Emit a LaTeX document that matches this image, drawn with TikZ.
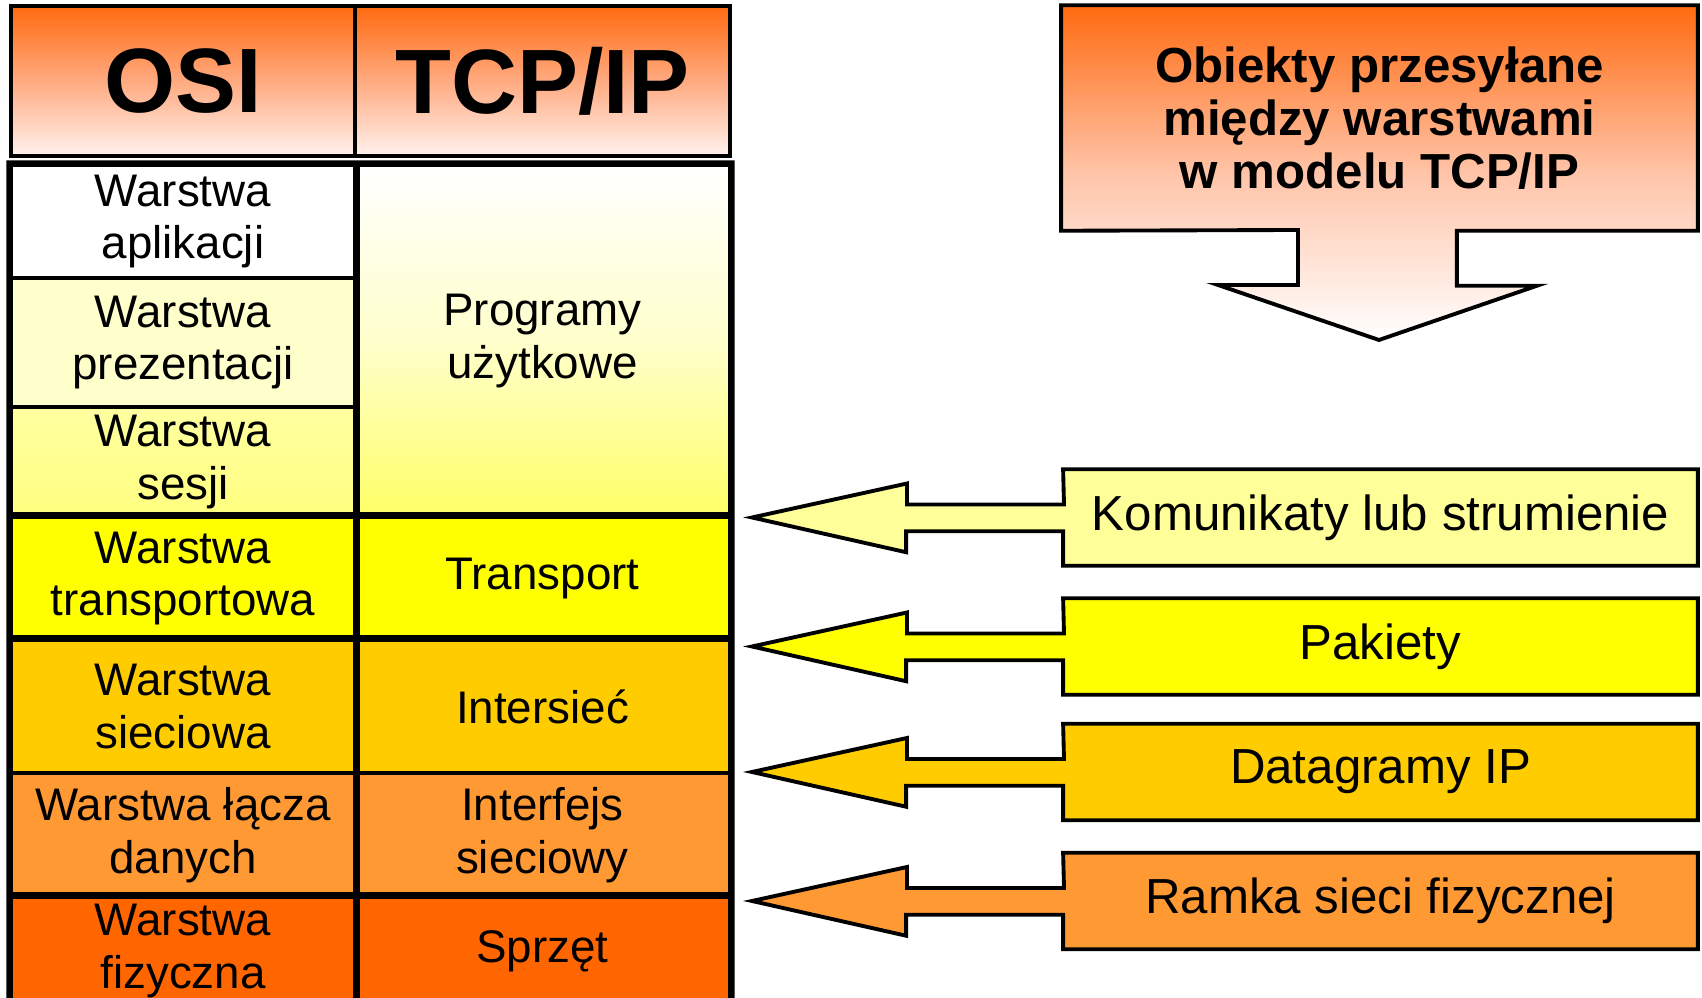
\documentclass[tikz,border=0pt]{standalone}
\usepackage{fontspec}
\setmainfont{Liberation Sans}
\usetikzlibrary{backgrounds}
\definecolor{hdtop}{HTML}{FF6A10}
\definecolor{hdmid}{HTML}{FFAA80}
\definecolor{hdbot}{HTML}{FFF2EE}
\definecolor{objmid}{HTML}{FFC4A8}
\definecolor{pale}{HTML}{FFFFCC}
\definecolor{sesstop}{HTML}{FFFFA0}
\definecolor{sessbot}{HTML}{FFFF80}
\definecolor{progbot}{HTML}{FFFF66}
\definecolor{yel}{HTML}{FFFF00}
\definecolor{gold}{HTML}{FFCC00}
\definecolor{lorange}{HTML}{FF9933}
\definecolor{dorange}{HTML}{FF6600}
\definecolor{komcol}{HTML}{FFFF99}

\begin{document}
\begin{tikzpicture}[x=0.01cm, y=-0.01cm,
  cell/.style={draw, line width=1.1pt, align=center, inner sep=0pt,
    font=\fontsize{13}{15}\selectfont},
  osi/.style={cell, minimum width=3.44cm},
  tcp/.style={cell, minimum width=3.75cm},
  head/.style={cell, minimum height=1.5cm, top color=hdtop,
    bottom color=hdbot, middle color=hdmid,
    font=\fontsize{26}{30}\bfseries\selectfont},
  sep/.style={line width=1.9pt},
  tag/.style={align=center, inner sep=0pt, minimum width=6.33cm,
    minimum height=0.95cm, font=\fontsize{14}{16}\selectfont},
  arr/.style={draw, line width=1.1pt, line join=miter}]
  \useasboundingbox (0,0) rectangle (1702,998);
  \clip (0,0) rectangle (1702,998);

  \node[head, minimum width=3.44cm] (osi) at (183,81) {OSI};
  \node[head, minimum width=3.75cm] (tcpip) at (542.5,81) {TCP/IP};

  \node[osi, minimum height=1.13cm, fill=white] (app) at (183,221.5)
    {Warstwa\\aplikacji};
  \node[osi, minimum height=1.29cm, fill=pale] (pres) at (183,342.5)
    {Warstwa\\prezentacji};
  \node[osi, minimum height=1.10cm, top color=sesstop,
    bottom color=sessbot] (sess) at (183,462) {Warstwa\\sesji};
  \node[osi, minimum height=1.23cm, fill=yel] (trans) at (183,578.5)
    {Warstwa\\transportowa};
  \node[osi, minimum height=1.33cm, fill=gold] (net) at (183,706.5)
    {Warstwa\\sieciowa};
  \node[osi, minimum height=1.24cm, fill=lorange] (link) at (183,835)
    {Warstwa łącza\\danych};
  \node[osi, minimum height=1.08cm, fill=dorange] (phys) at (183,951)
    {Warstwa\\fizyczna};

  \node[tcp, minimum height=3.52cm, top color=white, bottom color=progbot,
    middle color=pale] (prog) at (542.5,341) {Programy\\użytkowe};
  \node[tcp, minimum height=1.23cm, fill=yel] (tr) at (542.5,578.5)
    {Transport};
  \node[tcp, minimum height=1.33cm, fill=gold] (inet) at (542.5,706.5)
    {Intersieć};
  \node[tcp, minimum height=1.24cm, fill=lorange] (nic) at (542.5,835)
    {Interfejs\\sieciowy};
  \node[tcp, minimum height=1.08cm, fill=dorange] (hw) at (542.5,951)
    {Sprzęt};

  \draw[sep] (trans.north west) -- (tr.north east);
  \draw[sep] (net.north west) -- (inet.north east);
  \draw[sep] (phys.north west) -- (hw.north east);
  \draw[line width=1.5pt] (phys.south west) -- (app.north west)
    -- (prog.north east) -- (hw.south east);
  \draw[line width=1.5pt] (app.north east) -- (phys.south east);

  \node[align=center, inner sep=0pt, minimum width=6.35cm,
    minimum height=2.24cm, font=\fontsize{14}{15}\bfseries\selectfont]
    (obj) at (1379.5,118)
    {Obiekty przesyłane\\między warstwami\\w modelu TCP/IP};
  \coordinate (objtip) at (1379,340);

  \node[tag] (kom) at (1380.5,517.5) {Komunikaty lub strumienie};
  \coordinate (komtip) at (752,517.5);
  \node[tag] (pak) at (1380.5,646.5) {Pakiety};
  \coordinate (paktip) at (752,646.5);
  \node[tag] (dat) at (1380.5,772) {Datagramy IP};
  \coordinate (dattip) at (752,772);
  \node[tag] (ram) at (1380.5,901) {Ramka sieci fizycznej};
  \coordinate (ramtip) at (752,901);

  \begin{scope}[on background layer]
    \draw[arr, top color=hdtop, bottom color=white, middle color=objmid]
      (obj.north west) -- (obj.north east) -- (obj.south east)
      -- ++(-241,0) -- ++(0,55) -- ++(80,0) -- (objtip)
      -- ++(-161,-55) -- ++(80,0) -- ++(0,-55) -- (obj.south west) -- cycle;
    \draw[arr, fill=komcol] (kom.north west) -- (kom.north east)
      -- (kom.south east) -- (kom.south west) -- ++(0,-34.5) -- ++(-157,0)
      -- ++(0,21) -- (komtip) -- ++(155,-34) -- ++(0,21) -- ++(157,0) -- cycle;
    \draw[arr, fill=yel] (pak.north west) -- (pak.north east)
      -- (pak.south east) -- (pak.south west) -- ++(0,-34.5) -- ++(-157,0)
      -- ++(0,21) -- (paktip) -- ++(155,-34) -- ++(0,21) -- ++(157,0) -- cycle;
    \draw[arr, fill=gold] (dat.north west) -- (dat.north east)
      -- (dat.south east) -- (dat.south west) -- ++(0,-34.5) -- ++(-157,0)
      -- ++(0,21) -- (dattip) -- ++(155,-34) -- ++(0,21) -- ++(157,0) -- cycle;
    \draw[arr, fill=lorange] (ram.north west) -- (ram.north east)
      -- (ram.south east) -- (ram.south west) -- ++(0,-34.5) -- ++(-157,0)
      -- ++(0,21) -- (ramtip) -- ++(155,-34) -- ++(0,21) -- ++(157,0) -- cycle;
  \end{scope}
\end{tikzpicture}
\end{document}
